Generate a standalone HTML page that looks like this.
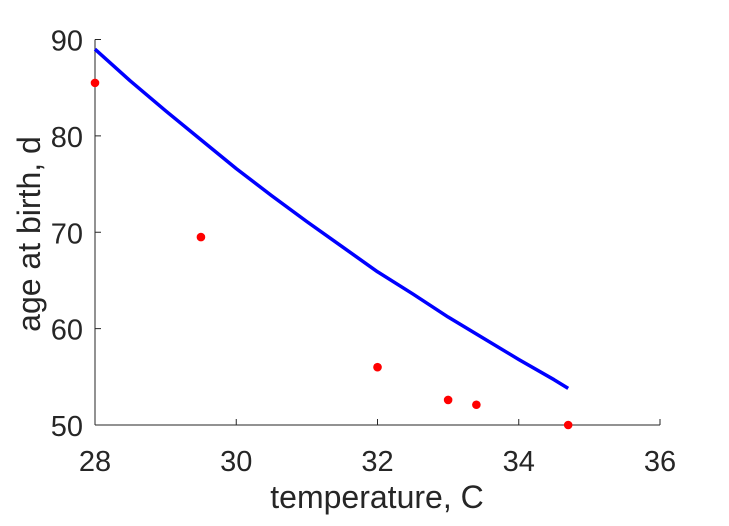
<!DOCTYPE html>
<html><head><meta charset="utf-8"><style>
body{margin:0;background:#fff;width:729px;height:521px;overflow:hidden}
text{font-family:"Liberation Sans",Arial,sans-serif;fill:#262626}
</style></head><body>
<svg id="chart" width="729" height="521" xmlns="http://www.w3.org/2000/svg">
<g id="axes"></g>
<g id="marks"></g>
<text x="377" y="508" font-size="32" text-anchor="middle">temperature, C</text>
<text transform="translate(40,234) rotate(-90)" font-size="32" text-anchor="middle">age at birth, d</text>
</svg>
<script>
const xTicks=[28,30,32,34,36];
const yTicks=[50,60,70,80,90];
const dataT=[28,29.5,32,33,33.4,34.7];
const dataAge=[85.5,69.5,56,52.6,52.1,50];
const curveT=[28,28.5,29,29.5,30,30.5,31,31.5,32,32.5,33,33.5,34,34.5,34.7];
const curveAge=[89,85.7,82.6,79.6,76.6,73.8,71.1,68.5,65.9,63.6,61.2,59.0,56.8,54.7,53.8];
const X0=95,X1=660,Y0=425,Y1=39.5;
const sx=v=>X0+(v-28)/(36-28)*(X1-X0);
const sy=v=>Y0-(v-50)/(90-50)*(Y0-Y1);
const NS="http://www.w3.org/2000/svg";
const axes=document.getElementById('axes'),marks=document.getElementById('marks');
function mk(tag,attrs,parent){const e=document.createElementNS(NS,tag);for(const k in attrs)e.setAttribute(k,attrs[k]);parent.appendChild(e);return e;}
const xl=mk('line',{x1:X0,y1:Y0,x2:X1,y2:Y0,stroke:'#262626','stroke-width':1},axes);


const yl=mk('line',{x1:X0,y1:Y0,x2:X0,y2:Y1,stroke:'#262626','stroke-width':1},axes);


xTicks.forEach(t=>{
  const tk=mk('line',{x1:sx(t),y1:Y0,x2:sx(t),y2:Y0-6,stroke:'#262626'},axes);
  
  
  const tx=mk('text',{x:sx(t),y:Y0+46,'font-size':29,'text-anchor':'middle'},axes);
  tx.textContent=t;
  
  
});
yTicks.forEach(t=>{
  const tk=mk('line',{x1:X0,y1:sy(t),x2:X0+6,y2:sy(t),stroke:'#262626'},axes);
  
  
  const tx=mk('text',{x:X0-12,y:sy(t)+11,'font-size':29,'text-anchor':'end'},axes);
  tx.textContent=t;
  
  
});
const pts=curveT.map((t,i)=>sx(t)+','+sy(curveAge[i])).join(' ');
const pl=mk('polyline',{points:pts,fill:'none',stroke:'#0000ff','stroke-width':3.5,'stroke-linejoin':'round'},marks);


dataT.forEach((t,i)=>{
  const c=mk('circle',{cx:sx(t),cy:sy(dataAge[i]),r:4.3,fill:'#ff0000'},marks);
  
  
});
</script>
</body></html>
